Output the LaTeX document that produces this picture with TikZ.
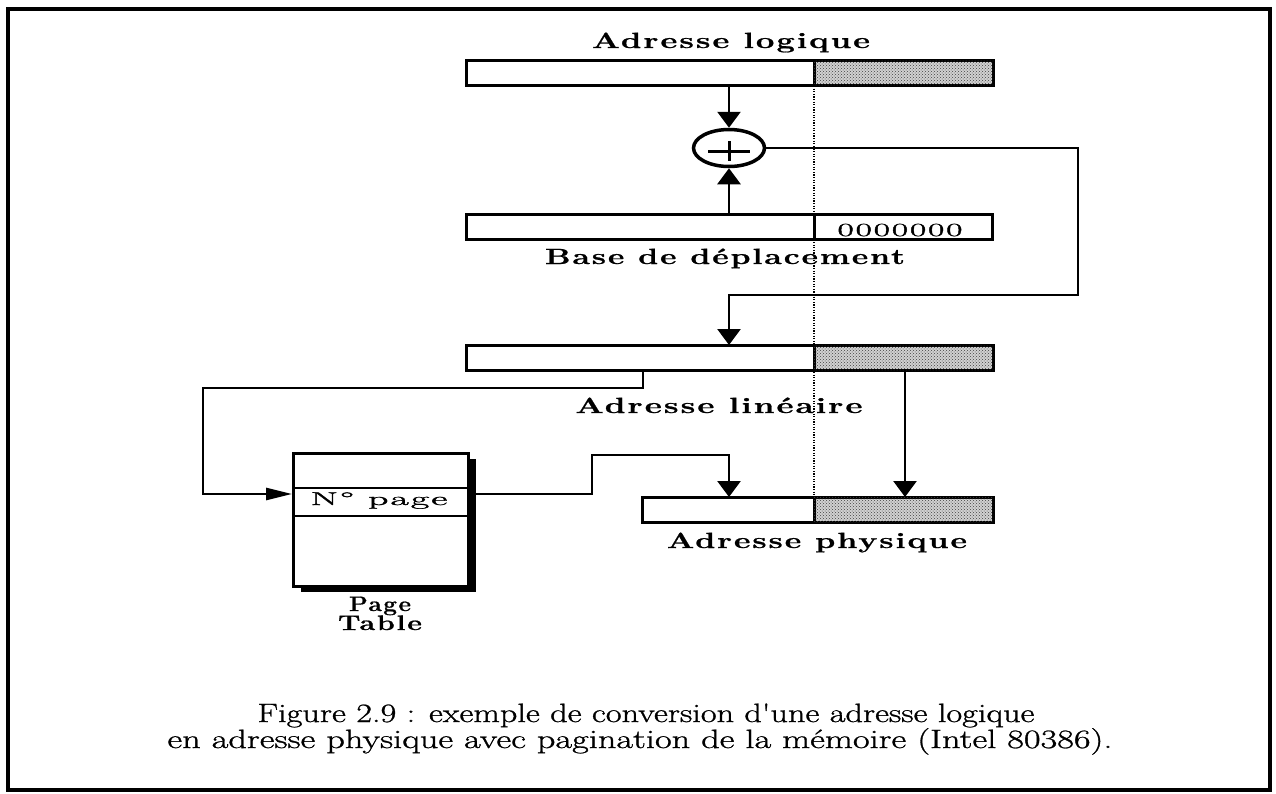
\documentclass[tikz,border=0pt]{standalone}
\usepackage{fontspec}
\usepackage{graphicx}
\usetikzlibrary{arrows.meta,patterns,shapes.geometric,shadows}
\newfontfamily\lblfont[LetterSpace=6,FakeBold=0.8]{Latin Modern Roman}
\newfontfamily\rgfont[LetterSpace=5,FakeBold=1.3]{Latin Modern Roman}
\newfontfamily\capfont[FakeBold=0.9]{Latin Modern Roman}
\newcommand\fitw[2]{\resizebox{#1}{\height}{#2}}
\tikzset{
  cell/.style={draw, line width=3pt, fill=white, minimum height=25pt, inner sep=0pt, outer sep=0pt, anchor=north west},
  shaded/.style={cell, fill=black!18, postaction={pattern=crosshatch dots, pattern color=black!75}},
  conn/.style={line width=2.7pt},
  arr/.style={conn, -{Triangle[width=23pt,length=16pt]}},
  thinarr/.style={conn, -{Triangle[width=12pt,length=26pt]}},
  lbl/.style={font=\lblfont\bfseries\fontsize{22}{22}\selectfont, inner sep=0pt, anchor=base},
  tbl/.style={font=\lblfont\bfseries\fontsize{21}{21}\selectfont, inner sep=0pt, anchor=base},
  rg/.style={font=\rgfont\fontsize{18.5}{19}\selectfont, inner sep=0pt, anchor=base},
  captxt/.style={font=\capfont\fontsize{26.5}{27}\selectfont, inner sep=0pt, anchor=base},
  dotline/.style={line width=1.4pt, dash pattern=on 1.2pt off 1.4pt},
}
\begin{document}
\begin{tikzpicture}[x=1pt,y=-1pt]
\useasboundingbox (0,0) rectangle (1276,793);
% frame
\draw[line width=3.5pt] (8,9) rectangle (1270,790);

% dotted split line
\coordinate (dtop) at (814,60);
\coordinate (dbot) at (814,497);
\draw[dotline] (dtop) -- (dbot);

% logical address
\node[cell, minimum width=348pt] (laL) at (466,60) {};
\node[shaded, minimum width=179pt] (laR) at (814,60) {};
% base
\node[cell, minimum width=348pt] (bdL) at (466,214) {};
\node[cell, minimum width=178pt] (bdR) at (814,214) {};
% linear
\node[cell, minimum width=348pt] (llL) at (466,345) {};
\node[shaded, minimum width=179pt] (llR) at (814,345) {};
% physical
\node[cell, minimum width=172pt] (paL) at (642,497) {};
\node[shaded, minimum width=179pt] (paR) at (814,497) {};

% adder
\node[ellipse, draw, line width=3.5pt, minimum width=71pt, minimum height=37pt, inner sep=0pt, fill=white] (plus) at (729,148) {};
\draw[line width=3pt] ([shift={(-21,3)}]plus.center) -- ([shift={(21,3)}]plus.center)
                      ([shift={(0,-7)}]plus.center) -- ([shift={(0,13)}]plus.center);

% page table
\node[draw, line width=3pt, fill=white, minimum width=175pt, minimum height=133pt, inner sep=0pt, anchor=north west,
      drop shadow={shadow xshift=7pt, shadow yshift=-5pt, fill=black, opacity=1}] (pt) at (292,452) {};
\node[draw, line width=2.2pt, minimum width=175pt, minimum height=28pt, inner sep=0pt, anchor=north west] (row) at (292,487) {};

% connectors
\draw[arr] (plus.north |- laL.south) -- (plus.north);
\draw[arr] (plus.south |- bdL.north) -- (plus.south);
\coordinate (r1) at (1078,295);
\draw[arr] (plus.east) -| (r1) -- (r1 -| plus) -- (plus |- llL.north);

\coordinate (c1) at (643,388);
\coordinate (c2) at (203,494);
\draw[thinarr] (c1 |- llL.south) -- (c1) -| (c2) -- (c2 -| pt.west);

\coordinate (c3) at (592,455);
\coordinate (c4) at (729,455);
\draw[arr] (pt.east |- c2) -| (c3) -- (c4) -- (c4 |- paL.north);

\coordinate (c5) at (905,400);
\draw[arr] (c5 |- llR.south) -- (c5 |- paR.north);

% labels
\node[lbl] (tLA) at (731,48) {\fitw{278pt}{Adresse logique}};
\node[lbl] (tBD) at (725,264) {\fitw{360pt}{Base de déplacement}};
\node[lbl] (tAL) at (719,413) {\fitw{287pt}{Adresse linéaire}};
\node[lbl] (tAP) at (817,548) {\fitw{300pt}{Adresse physique}};
\node[rg] (zeros) at (900,236) {\fitw{125pt}{0000000}};
\node[rg] (nop) at (379,505) {\fitw{137pt}{N° page}};
\node[tbl] (pg1) at (380,611) {\fitw{62pt}{Page}};
\node[tbl] (pg2) at (380,630) {\fitw{84pt}{Table}};

% caption
\node[captxt] (cap1) at (646,722) {\fitw{777pt}{Figure 2.9 : exemple de conversion d'une adresse logique}};
\node[captxt] (cap2) at (640,748) {\fitw{945pt}{en adresse physique avec pagination de la mémoire (Intel 80386).}};
\end{tikzpicture}
\end{document}
